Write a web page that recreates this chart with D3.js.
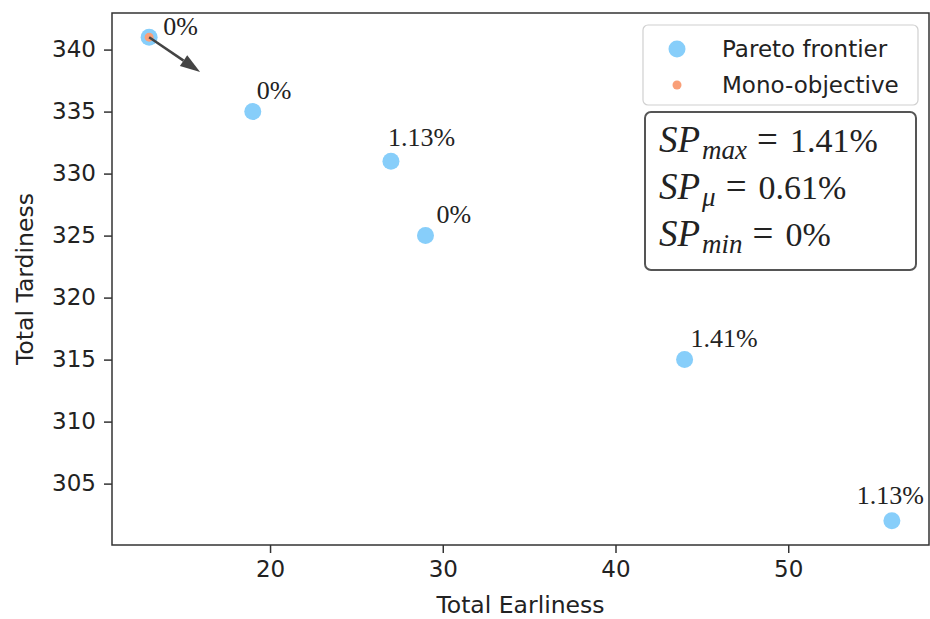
<!DOCTYPE html>
<html>
<head>
<meta charset="utf-8">
<script src="https://cdn.jsdelivr.net/npm/d3@7"></script>
<style>
  body { margin: 0; background: #fff; }
  svg { display: block; }
</style>
</head>
<body>
<div id="chart"></div>
<script>
// Pareto frontier points (earliness, tardiness)
const earliness = [13, 19, 27, 29, 44, 56];
const tardiness = [341, 335, 331, 325, 315, 302];
const gapLabels = ["0%", "0%", "1.13%", "0%", "1.41%", "1.13%"];
// mono-objective solution
const monoEarliness = [13];
const monoTardiness = [341];
// arrow end (data coords)
const arrowEnd = [15.95, 338.2];

const xTicks = [20, 30, 40, 50];
const yTicks = [305, 310, 315, 320, 325, 330, 335, 340];

const spLines = [
    { sub: "max", value: "1.41%" },
    { sub: "\u03bc", value: "0.61%" },
    { sub: "min", value: "0%" }
];

// label offsets in px (left, baseline), as placed in the original
const labelOffsets = [[14, -2], [4, -13], [-3, -15], [11, -13], [6, -13], [-35, -17]];

const width = 930, height = 619;
const margin = { top: 13, right: 1, bottom: 74, left: 112 };
const sansFont = "DejaVu Sans, sans-serif";
const serifFont = "Liberation Serif, serif";
const fs = 23;

const svg = d3.select("#chart").append("svg")
    .attr("width", width)
    .attr("height", height);

// Échelles
const xScale = d3.scaleLinear()
    .domain([10.85, 58.15])
    .range([margin.left, width - margin.right]);

const yScale = d3.scaleLinear()
    .domain([300.05, 342.95])
    .range([height - margin.bottom, margin.top]);

const x0 = margin.left, x1 = width - margin.right;
const y0 = height - margin.bottom, y1 = margin.top;

// Axes
const xAxis = d3.axisBottom(xScale).tickValues(xTicks).tickSize(8).tickPadding(8);
const yAxis = d3.axisLeft(yScale).tickValues(yTicks).tickSize(8).tickPadding(8);

const gx = svg.append("g")
    .attr("transform", `translate(0, ${y0})`)
    .call(xAxis);
const gy = svg.append("g")
    .attr("transform", `translate(${x0}, 0)`)
    .call(yAxis);

[gx, gy].forEach(g => {
    g.select(".domain").remove();
    g.selectAll("line").attr("stroke", "#333").attr("stroke-width", 1.5);
    g.selectAll("text")
        .attr("font-family", sansFont)
        .attr("font-size", fs + "px")
        .attr("fill", "#222");
});

// Cadre
svg.append("rect")
    .attr("x", x0)
    .attr("y", y1)
    .attr("width", x1 - x0)
    .attr("height", y0 - y1)
    .attr("fill", "none")
    .attr("stroke", "#333")
    .attr("stroke-width", 1.5);

// Axis titles
svg.append("text")
    .attr("x", (x0 + x1) / 2)
    .attr("y", 613)
    .attr("text-anchor", "middle")
    .attr("font-family", sansFont)
    .attr("font-size", "23.5px")
    .attr("fill", "#222")
    .text("Total Earliness");

svg.append("text")
    .attr("transform", `translate(33, ${(y0 + y1) / 2}) rotate(-90)`)
    .attr("text-anchor", "middle")
    .attr("font-family", sansFont)
    .attr("font-size", "23.5px")
    .attr("fill", "#222")
    .text("Total Tardiness");

// Points
const points = earliness.map((e, i) => ({ x: e, y: tardiness[i], label: gapLabels[i], off: labelOffsets[i] }));

svg.append("g")
    .selectAll("circle")
    .data(points)
    .enter()
    .append("circle")
    .attr("cx", d => xScale(d.x))
    .attr("cy", d => yScale(d.y))
    .attr("r", 8.5)
    .attr("fill", "#87cefa");

svg.append("g")
    .selectAll("circle")
    .data(monoEarliness.map((e, i) => ({ x: e, y: monoTardiness[i] })))
    .enter()
    .append("circle")
    .attr("cx", d => xScale(d.x))
    .attr("cy", d => yScale(d.y))
    .attr("r", 4.5)
    .attr("fill", "#f99f78");

// Arrow
const ax0 = xScale(monoEarliness[0]), ay0 = yScale(monoTardiness[0]);
const ax1 = xScale(arrowEnd[0]), ay1 = yScale(arrowEnd[1]);
const ang = Math.atan2(ay1 - ay0, ax1 - ax0);
const headLen = 20, headW = 6.5;
const bx = ax1 - headLen * Math.cos(ang), by = ay1 - headLen * Math.sin(ang);
svg.append("line")
    .attr("x1", ax0).attr("y1", ay0)
    .attr("x2", bx).attr("y2", by)
    .attr("stroke", "#444")
    .attr("stroke-width", 2.5);
svg.append("polygon")
    .attr("points", [
        [ax1, ay1],
        [bx + headW * Math.sin(ang), by - headW * Math.cos(ang)],
        [bx - headW * Math.sin(ang), by + headW * Math.cos(ang)]
    ].map(p => p.join(",")).join(" "))
    .attr("fill", "#444");

// Gap labels
svg.append("g")
    .selectAll("text")
    .data(points)
    .enter()
    .append("text")
    .attr("x", d => xScale(d.x) + d.off[0])
    .attr("y", d => yScale(d.y) + d.off[1])
    .attr("font-family", serifFont)
    .attr("font-size", "26px")
    .attr("fill", "#222")
    .text(d => d.label);

// Légende
const legend = svg.append("g");
legend.append("rect")
    .attr("x", 643).attr("y", 25)
    .attr("width", 275).attr("height", 80)
    .attr("rx", 5)
    .attr("fill", "#fff")
    .attr("stroke", "#d0d0d0")
    .attr("stroke-width", 1.2);
legend.append("circle").attr("cx", 677).attr("cy", 49).attr("r", 8.5).attr("fill", "#87cefa");
legend.append("circle").attr("cx", 677).attr("cy", 85).attr("r", 4.5).attr("fill", "#f99f78");
legend.selectAll("text.lg")
    .data(["Pareto frontier", "Mono-objective"])
    .enter()
    .append("text")
    .attr("class", "lg")
    .attr("x", 722)
    .attr("y", (d, i) => 49 + i * 36)
    .attr("dy", "0.36em")
    .attr("font-family", sansFont)
    .attr("font-size", fs + "px")
    .attr("fill", "#222")
    .text(d => d);

// Boîte SP
const spBox = svg.append("g");
spBox.append("rect")
    .attr("x", 645).attr("y", 112)
    .attr("width", 271).attr("height", 158)
    .attr("rx", 6)
    .attr("fill", "#fff")
    .attr("stroke", "#555")
    .attr("stroke-width", 2);

spLines.forEach((l, i) => {
    const t = spBox.append("text")
        .attr("x", 659)
        .attr("y", 152 + i * 47)
        .attr("font-family", serifFont)
        .attr("font-size", "37px")
        .attr("fill", "#222");
    t.append("tspan").attr("font-style", "italic").text("SP");
    t.append("tspan").attr("font-style", "italic").attr("font-size", "27px").attr("dx", 2).attr("dy", 7).text(l.sub);
    t.append("tspan").attr("dy", -7).attr("dx", 10).text("=");
    t.append("tspan").attr("dx", 12).attr("font-size", "34px").text(l.value);
});
</script>
</body>
</html>
